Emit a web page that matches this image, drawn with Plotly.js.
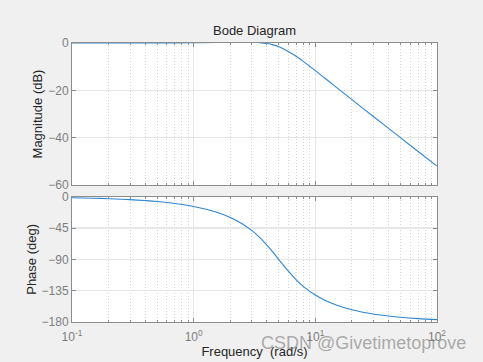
<!DOCTYPE html>
<html>
<head>
<meta charset="utf-8">
<script src="https://cdn.plot.ly/plotly-3.0.1.min.js"></script>
<style>
html,body{margin:0;padding:0;background:#f0f0f0;}
#chart{width:483px;height:362px;}
</style>
</head>
<body>
<div id="chart"></div>
<script>
// Frequencies (rad/s)
const freq = [0.1, 0.15, 0.2, 0.3, 0.4, 0.5, 0.7, 1, 1.5, 2, 2.5, 3, 3.5, 4, 4.5, 5, 5.5, 6, 7, 8, 10, 12, 15, 20, 30, 40, 50, 70, 100];
// Magnitude (dB)
const magnitude = [0.00, 0.00, 0.00, 0.01, 0.02, 0.02, 0.05, 0.09, 0.19, 0.29, 0.35, 0.33, 0.15, -0.22, -0.80, -1.58, -2.52, -3.56, -5.73, -7.87, -11.69, -14.91, -18.86, -23.95, -31.06, -36.09, -39.98, -45.83, -52.04];
// Phase (deg)
const phase = [-1.4, -2.1, -2.8, -4.1, -5.5, -6.9, -9.7, -14.0, -21.6, -29.7, -38.7, -48.4, -58.7, -69.4, -80.0, -90.0, -99.0, -107.0, -119.7, -129.1, -141.3, -148.8, -155.8, -162.3, -168.4, -171.3, -173.1, -175.1, -176.6];

const freqTicks = [0.1, 1, 10, 100];
const freqTickText = ['10<sup>-1</sup>', '10<sup>0</sup>', '10<sup>1</sup>', '10<sup>2</sup>'];
const magTicks = [0, -20, -40, -60];
const phaseTicks = [0, -45, -90, -135, -180];

// minor (log) tick positions: 2..9 within each decade
const minorVals = [];
for (let d = 0; d < freqTicks.length - 1; d++) {
  for (let k = 2; k <= 9; k++) minorVals.push(freqTicks[d] * k);
}

const lineColor = '#2f86cf';
const gridMajor = '#e6e6e6';
const gridMinor = '#d4d4d4';
const frame = '#8c8c8c';
const tickFont = {family: 'Liberation Sans, Arial, sans-serif', size: 12, color: '#7d7d7d'};
const labelFont = {family: 'Liberation Sans, Arial, sans-serif', size: 13, color: '#262626'};

function xax(showLabels, anchor) {
  return {
    type: 'log', range: [-1, 2], anchor: anchor,
    tickmode: 'array', tickvals: freqTicks, ticktext: freqTickText,
    showticklabels: showLabels, tickfont: tickFont,
    ticks: 'inside', ticklen: 4, tickcolor: frame,
    showline: true, linecolor: frame, linewidth: 1, mirror: 'ticks',
    showgrid: true, gridcolor: gridMajor, gridwidth: 1.5,
    minor: {tickmode: 'array', tickvals: minorVals, ticks: 'inside', ticklen: 2, tickcolor: frame,
            showgrid: true, gridcolor: gridMinor, griddash: '1px,2px', gridwidth: 1},
    zeroline: false
  };
}

const data = [
  {x: freq, y: magnitude, xaxis: 'x', yaxis: 'y', type: 'scatter', mode: 'lines',
   line: {color: lineColor, width: 1.1, shape: 'spline'}, hoverinfo: 'skip'},
  {x: freq, y: phase, xaxis: 'x2', yaxis: 'y2', type: 'scatter', mode: 'lines',
   line: {color: lineColor, width: 1.1, shape: 'spline'}, hoverinfo: 'skip'}
];

const layout = {
  width: 483, height: 362,
  paper_bgcolor: '#f0f0f0', plot_bgcolor: '#ffffff',
  margin: {l: 72, r: 46, t: 43, b: 40},
  showlegend: false,
  title: {text: 'Bode Diagram', x: 0.527, xanchor: 'center', y: 0.917, yanchor: 'middle',
          font: {family: 'Liberation Sans, Arial, sans-serif', size: 13, color: '#262626'}},
  xaxis: Object.assign(xax(false, 'y'), {domain: [0, 1]}),
  xaxis2: Object.assign(xax(true, 'y2'), {domain: [0, 1], ticklabelstandoff: 4,
    title: {text: 'Frequency  (rad/s)', font: labelFont, standoff: 1}}),
  yaxis: {
    domain: [0.491, 1], range: [-60, 0], anchor: 'x',
    tickvals: magTicks, tickfont: tickFont,
    ticks: 'inside', ticklen: 4, tickcolor: frame,
    showline: true, linecolor: frame, mirror: 'ticks',
    showgrid: true, gridcolor: gridMajor, gridwidth: 1.5, zeroline: false,
    title: {text: 'Magnitude (dB)', font: labelFont, standoff: 2}
  },
  yaxis2: {
    domain: [0, 0.449], range: [-180, 0], anchor: 'x2',
    tickvals: phaseTicks, tickfont: tickFont,
    ticks: 'inside', ticklen: 4, tickcolor: frame,
    showline: true, linecolor: frame, mirror: 'ticks',
    showgrid: true, gridcolor: gridMajor, gridwidth: 1.5, zeroline: false,
    title: {text: 'Phase (deg)', font: labelFont, standoff: 2}
  },
  annotations: [
    {text: 'CSDN @Givetimetoprove', xref: 'paper', yref: 'paper', x: 1.085, y: -0.075,
     xanchor: 'right', yanchor: 'middle', showarrow: false,
     font: {family: 'Liberation Sans, Arial, sans-serif', size: 18, color: 'rgba(120,120,120,0.6)'}}
  ]
};

Plotly.newPlot('chart', data, layout, {displayModeBar: false, staticPlot: true});
</script>
</body>
</html>
